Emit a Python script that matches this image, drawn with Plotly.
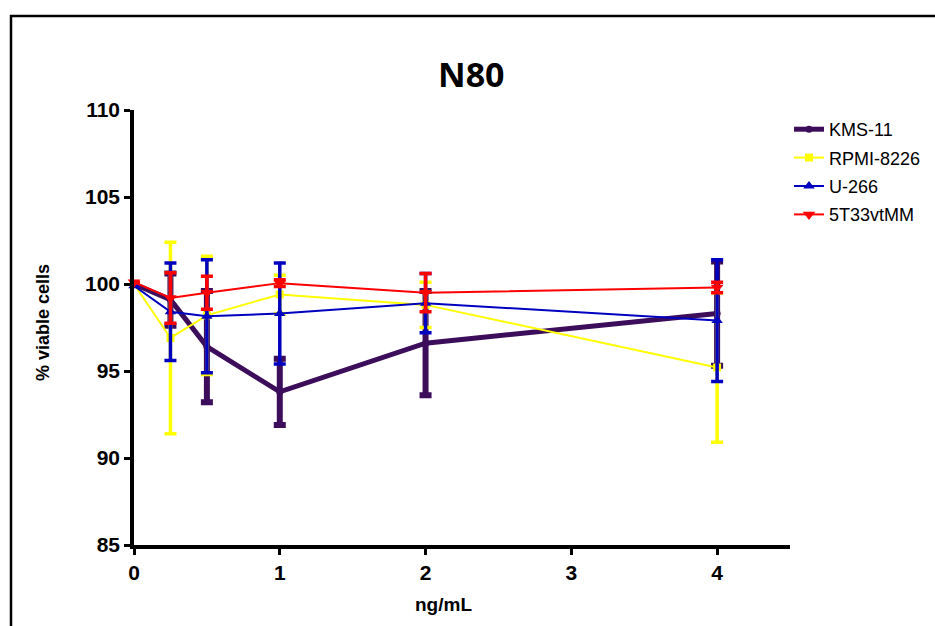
import plotly.graph_objects as go

# Concentrations (ng/mL)
dose = [0, 0.25, 0.5, 1, 2, 4]

# Mean % viable cells and error per cell line
kms11_mean = [100.0, 99.1, 96.4, 93.8, 96.6, 98.3]
kms11_err = [0.0, 1.5, 3.2, 1.9, 3.0, 3.0]

rpmi_mean = [100.0, 96.9, 98.2, 99.4, 98.8, 95.2]
rpmi_err = [0.0, 5.5, 3.4, 1.1, 1.3, 4.3]

u266_mean = [99.9, 98.4, 98.15, 98.3, 98.9, 97.9]
u266_err = [0.0, 2.8, 3.25, 2.9, 1.7, 3.5]

t33_mean = [100.1, 99.2, 99.5, 100.05, 99.5, 99.8]
t33_err = [0.0, 1.45, 0.95, 0.2, 1.1, 0.3]

x_ticks = [0, 1, 2, 3, 4]
y_ticks = [85, 90, 95, 100, 105, 110]

series = [
    ("KMS-11", kms11_mean, kms11_err, "#3c0d5a", 5, "circle", 7, 6),
    ("RPMI-8226", rpmi_mean, rpmi_err, "#ffff00", 2, "square", 8, 3.5),
    ("U-266", u266_mean, u266_err, "#0000c0", 2, "triangle-up", 10, 3.5),
    ("5T33vtMM", t33_mean, t33_err, "#ff0000", 2, "triangle-down", 11, 3.5),
]

FONT = "Liberation Sans, Arial, sans-serif"

fig = go.Figure()
for name, mean, err, color, lw, sym, msize, ew in series:
    fig.add_trace(go.Scatter(
        x=dose, y=mean, name=name, mode="lines+markers",
        line=dict(color=color, width=lw),
        marker=dict(symbol=sym, size=msize, color=color),
        error_y=dict(type="data", array=err, visible=True,
                     color=color, thickness=ew, width=6),
        cliponaxis=False,
        legendgroup=name,
    ))

W, H = 935, 626
L, R, T, B = 134, 145, 110, 81
pw, ph = W - L - R, H - T - B


def px_x(p):
    return (p - L) / pw


def px_y(p):
    return (H - B - p) / ph


tick_font = dict(size=21, family=FONT, weight="bold")

fig.update_layout(
    width=W, height=H,
    margin=dict(l=L, r=R, t=T, b=B, autoexpand=False),
    paper_bgcolor="white", plot_bgcolor="white",
    font=dict(family=FONT, color="black"),
    showlegend=True,
    legend=dict(
        x=px_x(789), y=px_y(111), xanchor="left", yanchor="top",
        font=dict(size=18, family=FONT),
        tracegroupgap=2, bgcolor="rgba(0,0,0,0)",
    ),
    xaxis=dict(
        range=[0, 4.5], tickvals=x_ticks, showgrid=False, zeroline=False,
        showline=True, linecolor="black", linewidth=4,
        ticks="outside", ticklen=6, tickwidth=3, tickcolor="black",
        tickfont=tick_font, automargin=False,
    ),
    yaxis=dict(
        range=[85, 110], tickvals=y_ticks, showgrid=False, zeroline=False,
        showline=True, linecolor="black", linewidth=3.5,
        ticks="outside", ticklen=6, tickwidth=3, tickcolor="black",
        tickfont=tick_font, automargin=False,
    ),
    annotations=[
        dict(text="<b>N80</b>", x=px_x(471), y=px_y(74), xref="paper", yref="paper",
             showarrow=False, xanchor="center", yanchor="middle",
             font=dict(size=34, family="Open Sans, Lato, sans-serif")),
        dict(text="<b>ng/mL</b>", x=px_x(443), y=px_y(604), xref="paper", yref="paper",
             showarrow=False, xanchor="center", yanchor="middle",
             font=dict(size=19)),
        dict(text="<b>% viable cells</b>", x=px_x(43), y=px_y(322), xref="paper", yref="paper",
             showarrow=False, xanchor="center", yanchor="middle", textangle=-90,
             font=dict(size=18)),
    ],
    shapes=[
        dict(type="rect", xref="paper", yref="paper",
             x0=px_x(11), x1=px_x(945), y0=px_y(640), y1=px_y(16),
             line=dict(color="black", width=2.5), fillcolor="rgba(0,0,0,0)"),
    ],
)

fig.write_html("out.html")
